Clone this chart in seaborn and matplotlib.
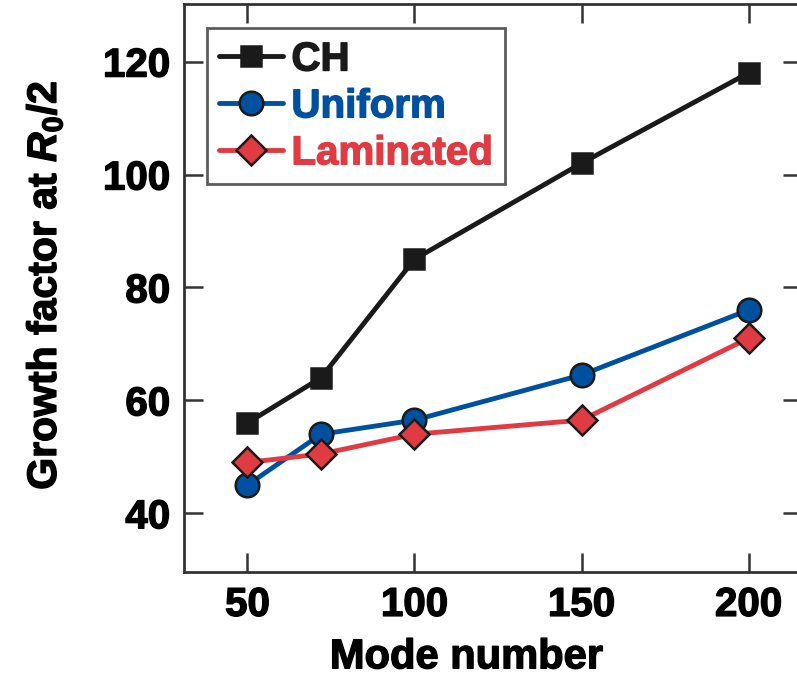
import numpy as np
import pandas as pd
import matplotlib
matplotlib.use("Agg")
import matplotlib.pyplot as plt
import matplotlib.patheffects as pe
import seaborn as sns

modes = [50, 72, 100, 150, 200]
ch = [56, 64, 85, 102, 118]
uniform = [45, 54, 56.5, 64.5, 76]
laminated = [49, 50.5, 54, 56.5, 71]

series_names = ['CH', 'Uniform', 'Laminated']
series_vals = [ch, uniform, laminated]
colors = ['#1a1a1a', '#0050a0', '#e03a42']
markers = ['s', 'o', 'D']
msizes = [15, 17, 15]

sns.set_theme(style="ticks")
plt.rcParams['font.family'] = ['Liberation Sans', 'DejaVu Sans']
plt.rcParams['font.weight'] = 'bold'
plt.rcParams['text.color'] = 'black'
plt.rcParams['axes.labelcolor'] = 'black'
plt.rcParams['xtick.labelcolor'] = 'black'
plt.rcParams['ytick.labelcolor'] = 'black'
plt.rcParams['mathtext.fontset'] = 'custom'
plt.rcParams['mathtext.rm'] = 'Liberation Sans:bold'
plt.rcParams['mathtext.it'] = 'Liberation Sans:bold:italic'

df = pd.DataFrame({
    'mode': modes * 3,
    'growth': ch + uniform + laminated,
    'case': np.repeat(series_names, len(modes)),
})

fig = plt.figure(figsize=(7.97, 6.82), dpi=100)
ax = fig.add_axes([184 / 797, 1 - 572 / 682, 618 / 797, 568 / 682])

for name, c, m, ms in zip(series_names, colors, markers, msizes):
    sub = df[df['case'] == name]
    sns.lineplot(data=sub, x='mode', y='growth', ax=ax, color=c, lw=3.5,
                 marker=m, markersize=ms, markeredgecolor='#1a1a1a',
                 markeredgewidth=1.8, label=name)

ax.set_xlim(31, 216)
ax.set_ylim(29.6, 130.2)
ax.set_xticks([50, 100, 150, 200])
ax.set_yticks([40, 60, 80, 100, 120])
ax.tick_params(direction='in', length=14, width=1.8, color='#333333',
               labelsize=29, top=True, right=True, pad=10)
heavy = [pe.withStroke(linewidth=1.0, foreground='black')]
for lab in ax.get_xticklabels() + ax.get_yticklabels():
    lab.set_fontweight('bold')
    lab.set_path_effects(heavy)
for s in ax.spines.values():
    s.set_linewidth(2)
    s.set_color('#333333')

ax.set_xlabel('Mode number', fontsize=30, fontweight='bold',
              path_effects=heavy)
ax.xaxis.set_label_coords(0.457, -0.115)
ax.set_ylabel(r'Growth factor at $\mathit{R}_0$/2', fontsize=29.5,
              fontweight='bold', path_effects=heavy)
ax.yaxis.set_label_coords(-0.193, 0.505)

leg = ax.legend(loc='upper left', bbox_to_anchor=(0.037, 0.957),
                fontsize=29, frameon=True, fancybox=False,
                handlelength=1.6, handletextpad=0.2, labelspacing=0.22,
                borderpad=0.3, borderaxespad=0)
leg.get_frame().set_edgecolor('#333333')
leg.get_frame().set_linewidth(2)
for t, c in zip(leg.get_texts(), colors):
    t.set_color(c)
    t.set_fontweight('bold')
    t.set_path_effects([pe.withStroke(linewidth=1.0, foreground=c)])

fig.savefig('out.png', dpi=100)
